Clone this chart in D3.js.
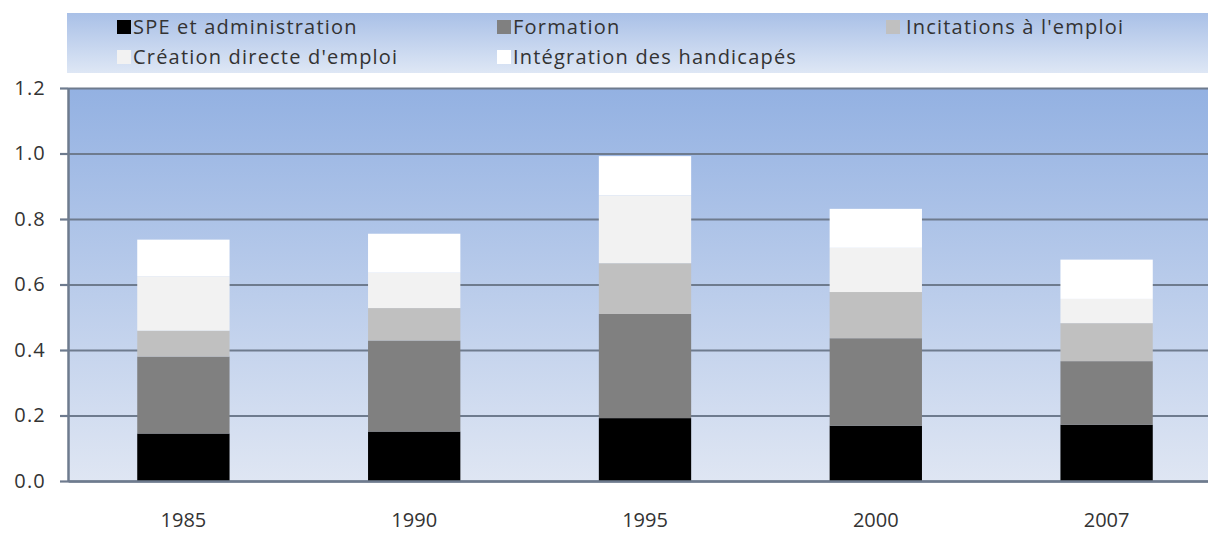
<!DOCTYPE html>
<html>
<head>
<meta charset="utf-8">
<script src="https://cdn.jsdelivr.net/npm/d3@7"></script>
<style>
  body { margin: 0; background: #fff; overflow: hidden; }
  svg { display: block; }
  text { font-family: "Open Sans", "Noto Sans", sans-serif; fill: #333; }
</style>
</head>
<body>
<svg id="chart"></svg>
<script>
// Data
const years = ["1985", "1990", "1995", "2000", "2007"];
const seriesNames = ["SPE et administration", "Formation", "Incitations à l'emploi",
                     "Création directe d'emploi", "Intégration des handicapés"];
const speAdmin   = [0.145, 0.151, 0.192, 0.169, 0.172];
const formation  = [0.235, 0.278, 0.318, 0.267, 0.194];
const incitation = [0.079, 0.099, 0.155, 0.141, 0.116];
const creation   = [0.166, 0.108, 0.207, 0.135, 0.074];
const handicap   = [0.112, 0.119, 0.120, 0.119, 0.120];
const yTicks = [0, 0.2, 0.4, 0.6, 0.8, 1.0, 1.2];
const colors = ["#000000", "#808080", "#c0c0c0", "#f2f2f2", "#ffffff"];

const width = 1208, height = 534;
const plot = { left: 68, right: 1222, top: 88, bottom: 481 };

const svg = d3.select("#chart").attr("width", width).attr("height", height);

// gradients for legend box and plot area
const defs = svg.append("defs");
function vGrad(id, top, bottom) {
    const g = defs.append("linearGradient").attr("id", id)
        .attr("x1", 0).attr("y1", 0).attr("x2", 0).attr("y2", 1);
    g.append("stop").attr("offset", "0%").attr("stop-color", top);
    g.append("stop").attr("offset", "100%").attr("stop-color", bottom);
}
vGrad("plotBg", "#93b1e2", "#dfe6f3");
vGrad("legBg", "#a9c0e7", "#dee7f5");

// build rows for the stack
const rows = years.map((y, i) => ({
    year: y,
    [seriesNames[0]]: speAdmin[i],
    [seriesNames[1]]: formation[i],
    [seriesNames[2]]: incitation[i],
    [seriesNames[3]]: creation[i],
    [seriesNames[4]]: handicap[i]
}));
const stacked = d3.stack().keys(seriesNames)(rows);

const x = d3.scaleBand()
    .domain(years)
    .range([plot.left, plot.right])
    .paddingInner(0.6)
    .paddingOuter(0.3);

const y = d3.scaleLinear()
    .domain([0, 1.2])
    .range([plot.bottom, plot.top]);

const color = d3.scaleOrdinal().domain(seriesNames).range(colors);

// plot background
svg.append("rect")
    .attr("x", plot.left).attr("y", plot.top)
    .attr("width", plot.right - plot.left)
    .attr("height", plot.bottom - plot.top)
    .attr("fill", "url(#plotBg)");

// gridlines
const grid = svg.append("g")
    .attr("transform", `translate(${plot.left},0)`)
    .call(d3.axisRight(y).tickValues(yTicks).tickSize(plot.right - plot.left).tickFormat(""));
grid.select(".domain").remove();
grid.selectAll("line").attr("stroke", "#6e7b8e").attr("stroke-width", 2.2);

// stacked bars
svg.append("g")
    .selectAll("g")
    .data(stacked)
    .join("g")
    .attr("fill", d => color(d.key))
    .selectAll("rect")
    .data(d => d)
    .join("rect")
    .attr("x", d => x(d.data.year))
    .attr("y", d => y(d[1]))
    .attr("height", d => y(d[0]) - y(d[1]))
    .attr("width", x.bandwidth());

// y axis
const yAxis = svg.append("g")
    .attr("transform", `translate(${plot.left},0)`)
    .call(d3.axisLeft(y).tickValues(yTicks).tickFormat(d3.format(".1f"))
        .tickSize(8).tickSizeOuter(0).tickPadding(14));
yAxis.select(".domain").attr("stroke", "#6e7b8e").attr("stroke-width", 2.5);
yAxis.selectAll("line").attr("stroke", "#6e7b8e").attr("stroke-width", 2.2);
yAxis.selectAll("text")
    .style("font-size", "20px")
    .style("letter-spacing", "1.2px")
    .attr("fill", "#333");

// x axis (labels only)
const xAxis = svg.append("g")
    .attr("transform", `translate(0,${plot.bottom})`)
    .call(d3.axisBottom(x).tickSize(0).tickPadding(32));
xAxis.select(".domain").attr("stroke", "#6e7b8e").attr("stroke-width", 2.5);
xAxis.selectAll("text")
    .style("font-size", "20px")
    .attr("fill", "#333");

// legend
svg.append("rect")
    .attr("x", 67).attr("y", 13)
    .attr("width", width - 67).attr("height", 60)
    .attr("fill", "url(#legBg)");

const legendPos = [
    { x: 117, y: 27 }, { x: 497, y: 27 }, { x: 886, y: 27 },
    { x: 117, y: 57 }, { x: 497, y: 57 }
];
const legend = svg.append("g")
    .selectAll("g")
    .data(seriesNames)
    .join("g")
    .attr("transform", (d, i) => `translate(${legendPos[i].x},${legendPos[i].y})`);

legend.append("rect")
    .attr("x", 0).attr("y", -7)
    .attr("width", 14).attr("height", 14)
    .attr("fill", d => color(d));

legend.append("text")
    .attr("x", (d, i) => i === 2 ? 20 : 16)
    .attr("dy", "0.35em")
    .style("font-size", "20px")
    .style("letter-spacing", "1.2px")
    .text(d => d);
</script>
</body>
</html>
